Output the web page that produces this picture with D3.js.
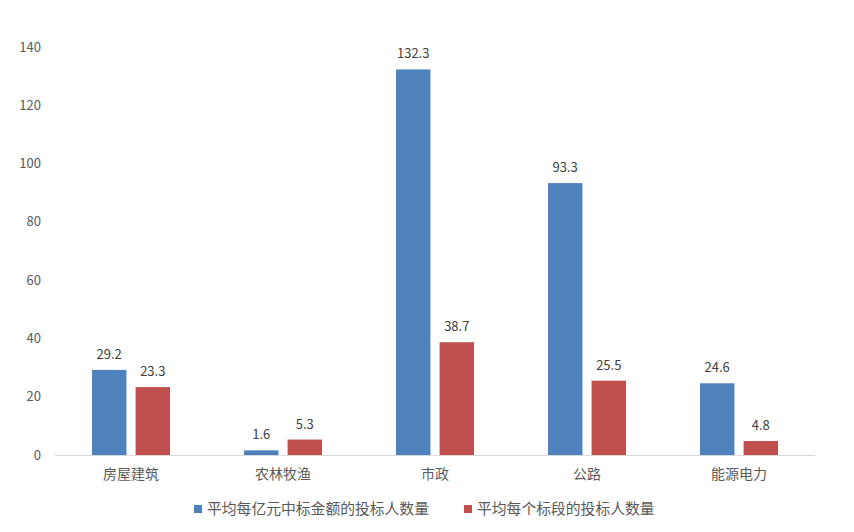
<!DOCTYPE html>
<html><head><meta charset="utf-8">
<script src="https://cdn.jsdelivr.net/npm/d3@7"></script>
<style>body{margin:0;background:#fff}text{font-family:"Microsoft YaHei","Noto Sans CJK SC",sans-serif;fill:#595959}</style>
</head><body><svg id="c" width="854" height="532"></svg>
<script>
const categories = ["房屋建筑","农林牧渔","市政","公路","能源电力"];
const seriesNames = ["平均每亿元中标金额的投标人数量","平均每个标段的投标人数量"];
const seriesA = [29.2,1.6,132.3,93.3,24.6];
const seriesB = [23.3,5.3,38.7,25.5,4.8];
const yTicks = [0,20,40,60,80,100,120,140];
const colors = ["#4F81BD","#C0504D"];

const svg = d3.select("#c");
const x = d3.scaleBand().domain(categories).range([55,815]);
const inner = d3.scaleBand().domain([0,1]).range([0,78]).paddingInner(0.21);
const y = d3.scaleLinear().domain([0,140]).range([455,47]);

svg.append("g").selectAll("text").data(yTicks).join("text")
  .attr("x",41).attr("y",d=>y(d)).attr("dy","0.35em").attr("text-anchor","end")
  .attr("font-size",13).text(d=>d);

svg.append("line").attr("x1",55).attr("x2",815).attr("y1",455.5).attr("y2",455.5)
  .attr("stroke","#d9d9d9").attr("stroke-width",1);

const data = [seriesA, seriesB];
data.forEach((s,si)=>{
  const g = svg.append("g");
  const off = (x.bandwidth()-78)/2;
  g.selectAll("rect").data(s).join("rect")
    .attr("x",(d,i)=>x(categories[i])+off+inner(si))
    .attr("width",inner.bandwidth())
    .attr("y",d=>y(d)).attr("height",d=>y(0)-y(d))
    .attr("fill",colors[si]);
  g.selectAll("text").data(s).join("text")
    .attr("x",(d,i)=>x(categories[i])+off+inner(si)+inner.bandwidth()/2)
    .attr("y",d=>y(d)-11).attr("text-anchor","middle").attr("font-size",13)
    .style("fill","#404040").text(d=>d.toFixed(1));
});

svg.append("g").selectAll("text").data(categories).join("text")
  .attr("x",d=>x(d)+x.bandwidth()/2).attr("y",474).attr("dy","0.35em")
  .attr("text-anchor","middle").attr("font-size",14).text(d=>d);

const legX = [194,464];
const leg = svg.append("g");
seriesNames.forEach((n,i)=>{
  leg.append("rect").attr("x",legX[i]).attr("y",505).attr("width",8).attr("height",8).attr("fill",colors[i]);
  leg.append("text").attr("x",legX[i]+13).attr("y",509).attr("dy","0.35em").attr("font-size",14.8).text(n);
});
</script></body></html>
